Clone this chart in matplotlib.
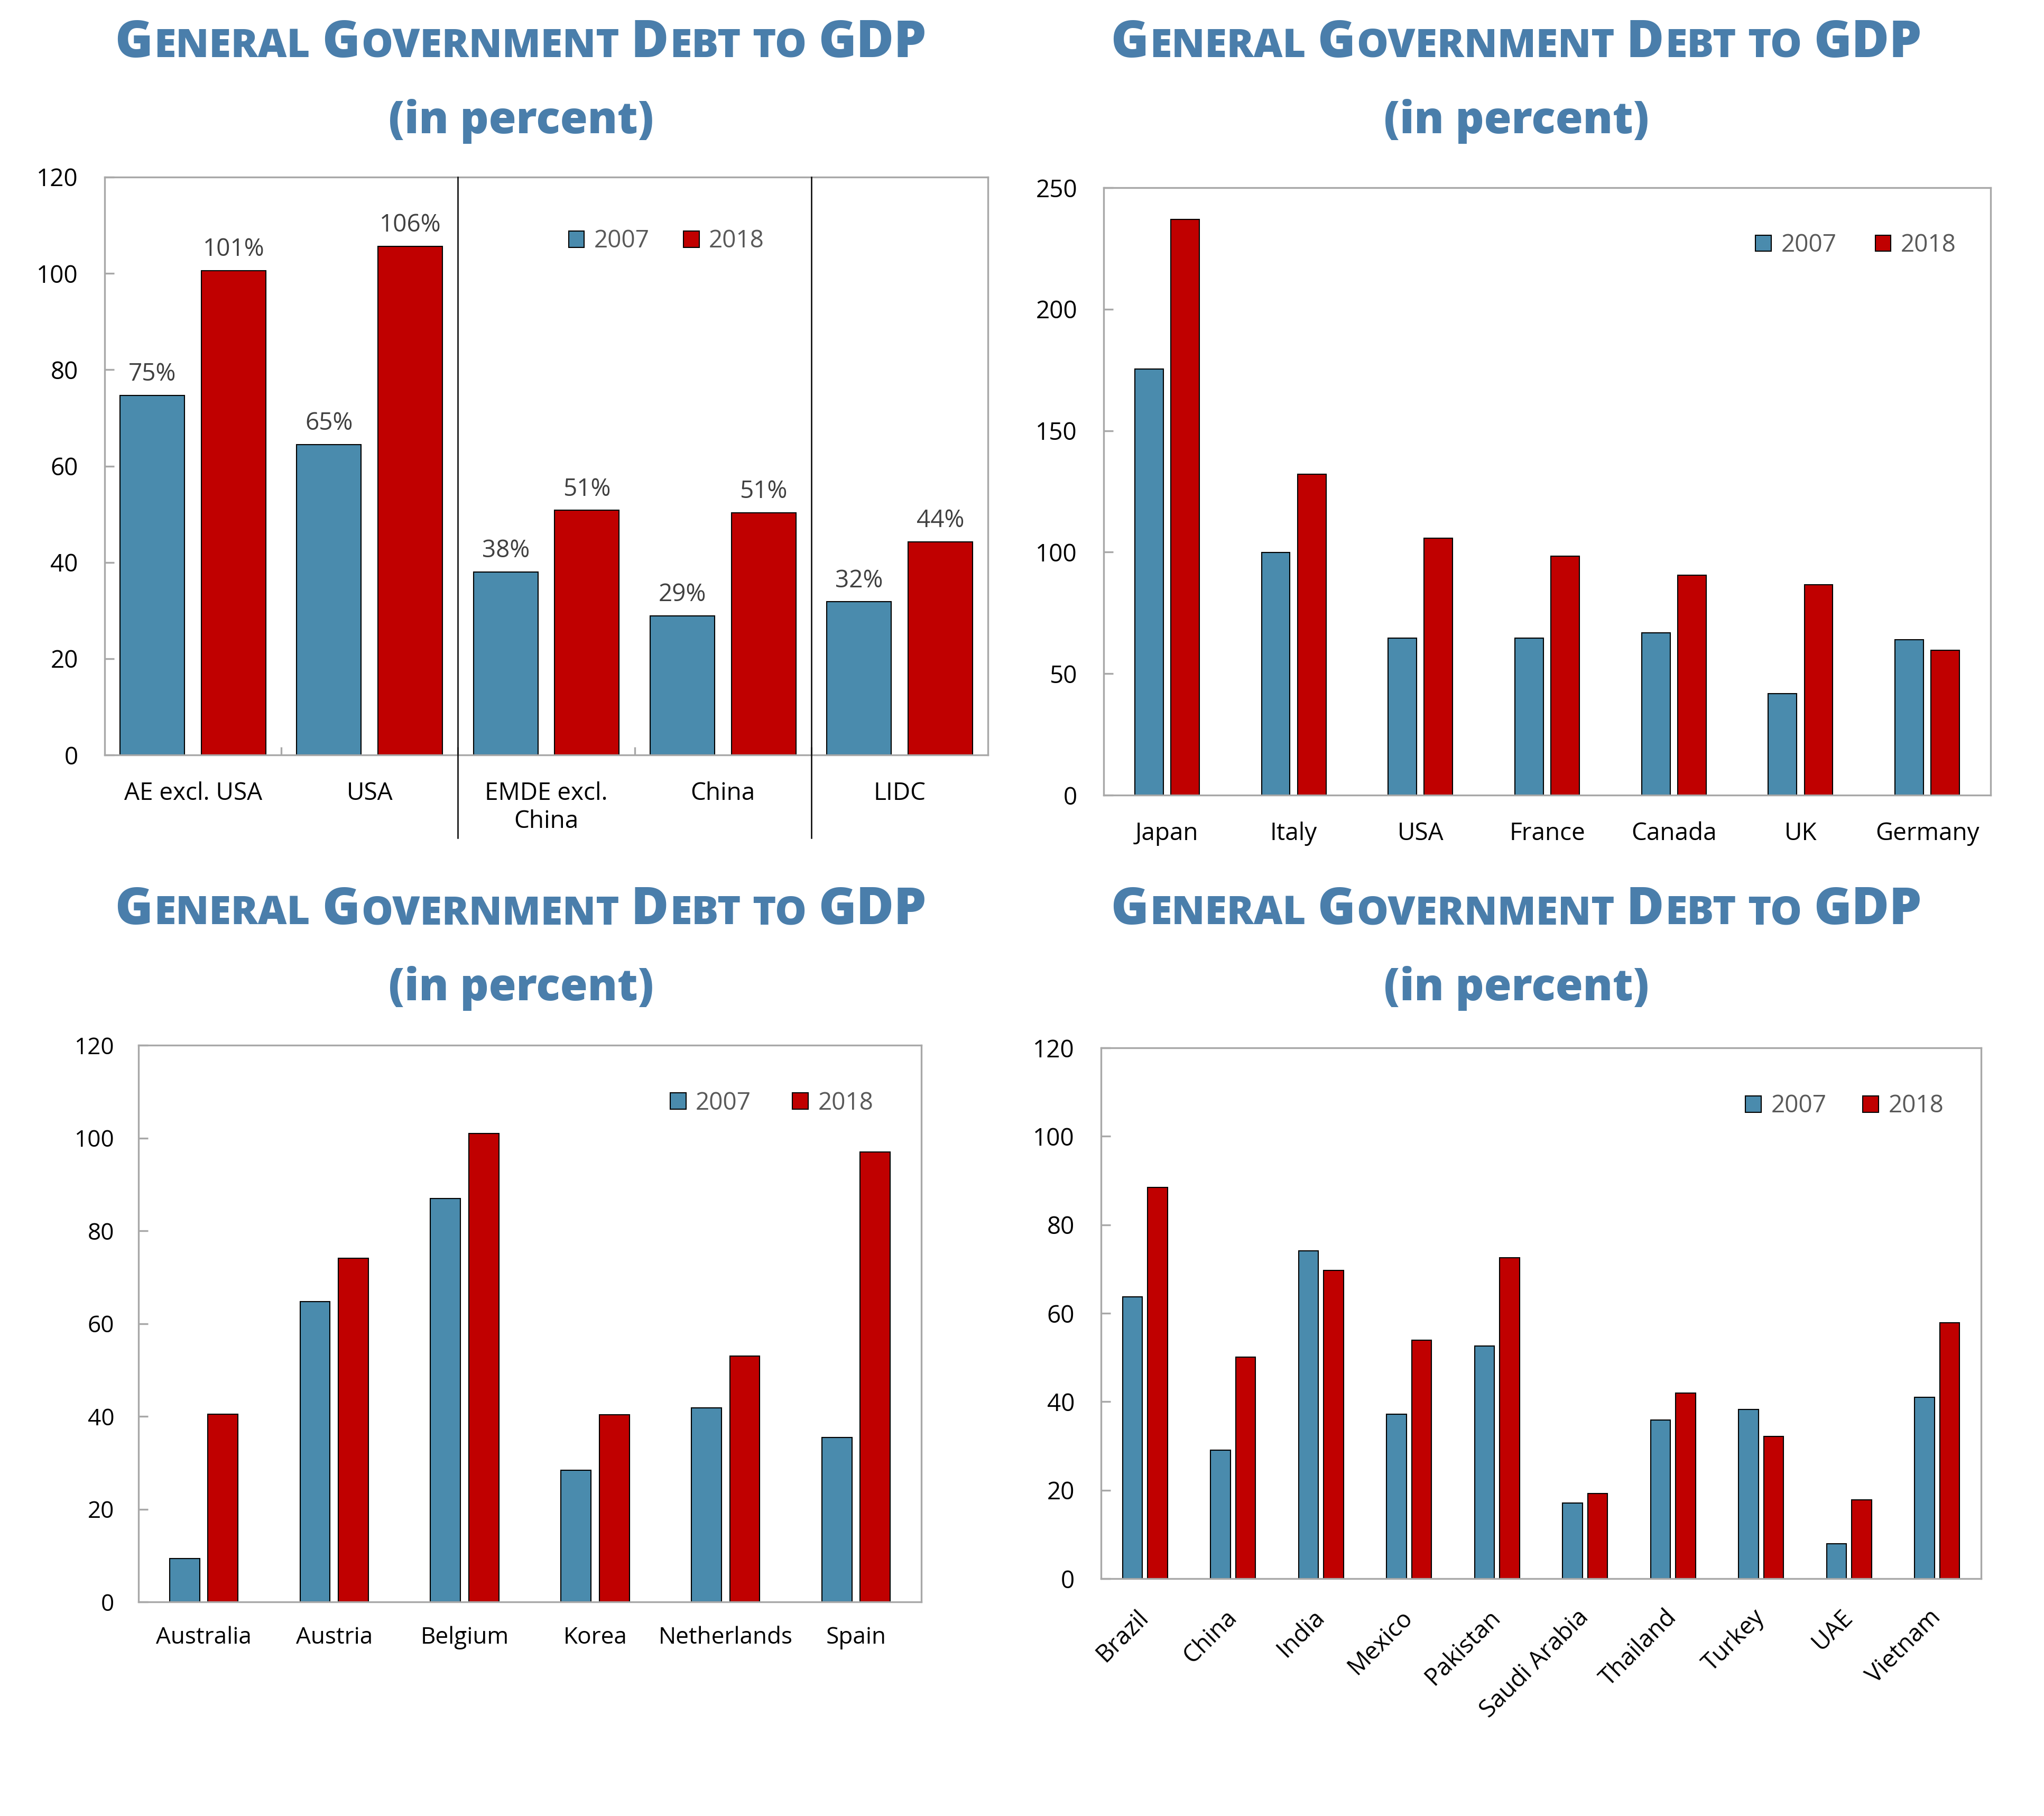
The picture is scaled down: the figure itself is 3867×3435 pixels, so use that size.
import matplotlib
matplotlib.use('Agg')
import matplotlib.pyplot as plt
from matplotlib.transforms import blended_transform_factory
import numpy as np

plt.rcParams['font.family'] = ['Open Sans', 'DejaVu Sans']

BLUE = '#4A8BAD'
RED = '#C00000'
TITLE_C = '#4A7EAB'
SPINE_C = '#A8A8A8'
LABEL_C = '#404040'
LEGEND_C = '#595959'

years = ['2007', '2018']

# Panel 1 (top-left): country groups
p1_categories = ['AE excl. USA', 'USA', 'EMDE excl.\nChina', 'China', 'LIDC']
p1_2007 = [74.7, 64.5, 38.0, 28.9, 31.8]
p1_2018 = [100.6, 105.6, 50.8, 50.3, 44.3]
p1_labels_2007 = ['75%', '65%', '38%', '29%', '32%']
p1_labels_2018 = ['101%', '106%', '51%', '51%', '44%']
p1_yticks = [0, 20, 40, 60, 80, 100, 120]

# Panel 2 (top-right): G7
p2_categories = ['Japan', 'Italy', 'USA', 'France', 'Canada', 'UK', 'Germany']
p2_2007 = [175.3, 99.8, 64.6, 64.6, 66.9, 41.8, 63.9]
p2_2018 = [236.9, 132.0, 105.8, 98.3, 90.6, 86.7, 59.6]
p2_yticks = [0, 50, 100, 150, 200, 250]

# Panel 3 (bottom-left): other advanced economies
p3_categories = ['Australia', 'Austria', 'Belgium', 'Korea', 'Netherlands', 'Spain']
p3_2007 = [9.4, 64.7, 87.0, 28.4, 41.8, 35.4]
p3_2018 = [40.5, 74.1, 101.0, 40.3, 53.0, 97.0]
p3_yticks = [0, 20, 40, 60, 80, 100, 120]

# Panel 4 (bottom-right): emerging markets
p4_categories = ['Brazil', 'China', 'India', 'Mexico', 'Pakistan', 'Saudi Arabia',
                 'Thailand', 'Turkey', 'UAE', 'Vietnam']
p4_2007 = [63.7, 29.1, 74.1, 37.2, 52.6, 17.1, 35.9, 38.2, 7.9, 41.0]
p4_2018 = [88.5, 50.1, 69.7, 53.9, 72.6, 19.3, 41.9, 32.2, 17.8, 57.8]
p4_yticks = [0, 20, 40, 60, 80, 100, 120]

title_words = [('G', 'ENERAL'), ('G', 'OVERNMENT'), ('D', 'EBT'), ('', 'TO'), ('GDP', '')]
subtitle = '(in percent)'

W_PX, H_PX, DPI = 3867, 3435, 300
fig = plt.figure(figsize=(W_PX / DPI, H_PX / DPI), dpi=DPI)
fig.patch.set_facecolor('white')


def frac(left, top, right, bottom):
    return [left / W_PX, 1 - bottom / H_PX, (right - left) / W_PX, (bottom - top) / H_PX]


def style_axes(ax, yticks, ymax, fs=11, pad=12):
    ax.set_ylim(0, ymax)
    ax.set_yticks(yticks)
    ax.set_yticklabels([str(t) for t in yticks])
    for s in ax.spines.values():
        s.set_color(SPINE_C)
        s.set_linewidth(0.8)
    ax.tick_params(axis='y', direction='in', length=4.2, width=0.8, color=SPINE_C,
                   labelsize=fs, pad=pad, labelcolor='black')
    ax.tick_params(axis='x', length=0, labelsize=fs, pad=pad, labelcolor='black')


def draw_bars(ax, cats, v07, v18, width, off):
    x = np.arange(len(cats))
    b1 = ax.bar(x - off, v07, width, color=BLUE, edgecolor='black', linewidth=0.5,
                label=years[0], zorder=2)
    b2 = ax.bar(x + off, v18, width, color=RED, edgecolor='black', linewidth=0.5,
                label=years[1], zorder=2)
    ax.set_xlim(-0.5, len(cats) - 0.5)
    ax.set_xticks(x)
    ax.set_xticklabels(cats)
    return b1, b2


def add_legend(ax, cx, cy, colsp=1.4):
    ax.legend(ncol=2, loc='center', bbox_to_anchor=(cx, cy), frameon=False,
              handlelength=0.65, handleheight=0.65, handletextpad=0.4,
              columnspacing=colsp, fontsize=11, labelcolor=LEGEND_C,
              borderpad=0, borderaxespad=0)


# ---- Panel 1
ax1 = fig.add_axes(frac(198, 335, 1869, 1428))
b1, b2 = draw_bars(ax1, p1_categories, p1_2007, p1_2018, 0.365, 0.23)
style_axes(ax1, p1_yticks, 120)
ax1.bar_label(b1, labels=p1_labels_2007, padding=4, color=LABEL_C, fontsize=11)
ax1.bar_label(b2, labels=p1_labels_2018, padding=4, color=LABEL_C, fontsize=11)
ax1.set_xticks([0.5, 1.5, 2.5, 3.5], minor=True)
ax1.tick_params(axis='x', which='minor', direction='in', length=3.6, width=0.8, color=SPINE_C)
trans = blended_transform_factory(ax1.transData, ax1.transAxes)
for xs in [1.5, 3.5]:
    ax1.plot([xs, xs], [1.0, -0.144], transform=trans, color='black', lw=0.6,
             clip_on=False, zorder=3)
add_legend(ax1, 0.636, 0.889)

# ---- Panel 2
ax2 = fig.add_axes(frac(2088, 355, 3766, 1504))
draw_bars(ax2, p2_categories, p2_2007, p2_2018, 0.225, 0.142)
style_axes(ax2, p2_yticks, 250)
add_legend(ax2, 0.848, 0.905, colsp=1.6)

# ---- Panel 3
ax3 = fig.add_axes(frac(262, 1977, 1743, 3030))
draw_bars(ax3, p3_categories, p3_2007, p3_2018, 0.23, 0.147)
style_axes(ax3, p3_yticks, 120, fs=10.6, pad=11)
add_legend(ax3, 0.809, 0.896, colsp=1.7)

# ---- Panel 4
ax4 = fig.add_axes(frac(2083, 1982, 3748, 2986))
draw_bars(ax4, p4_categories, p4_2007, p4_2018, 0.226, 0.142)
style_axes(ax4, p4_yticks, 120)
ax4.tick_params(axis='x', pad=16)
for lab in ax4.get_xticklabels():
    lab.set_rotation(45)
    lab.set_ha('right')
    lab.set_va('center')
    lab.set_rotation_mode('anchor')
add_legend(ax4, 0.845, 0.890, colsp=1.5)


# ---- Titles (small caps)
def smallcaps_title(xc, yb, big=23.3, small=18.1):
    renderer = fig.canvas.get_renderer()
    em_small = small * DPI / 72
    gap_letter = 0.03 * em_small
    gap_space = 0.26 * em_small
    pieces = []
    for i, (cap, rest) in enumerate(title_words):
        if cap:
            pieces.append(('t', cap, big))
        if rest:
            pieces.append(('t', rest, small))
        if i < len(title_words) - 1:
            pieces.append(('s', None, None))
    texts = []
    total = 0.0
    for kind, s, fs in pieces:
        if kind == 's':
            texts.append((None, gap_space))
            total += gap_space
        else:
            t = fig.text(0, yb, s, fontsize=fs, fontweight='heavy', color=TITLE_C,
                         ha='left', va='baseline')
            w = t.get_window_extent(renderer).width
            texts.append((t, w))
            total += w + gap_letter
    x = xc * W_PX - total / 2
    for t, w in texts:
        if t is None:
            x += w
        else:
            t.set_x(x / W_PX)
            x += w + gap_letter


for xc, y1, y2 in [(0.255, 0.9686, 0.9266), (0.742, 0.9686, 0.9266),
                   (0.255, 0.4911, 0.4492), (0.742, 0.4911, 0.4492)]:
    smallcaps_title(xc, y1)
    fig.text(xc, y2, subtitle, fontsize=20.2, fontweight='heavy', color=TITLE_C,
             ha='center', va='baseline')

fig.savefig('out.png', dpi=DPI, facecolor='white')
